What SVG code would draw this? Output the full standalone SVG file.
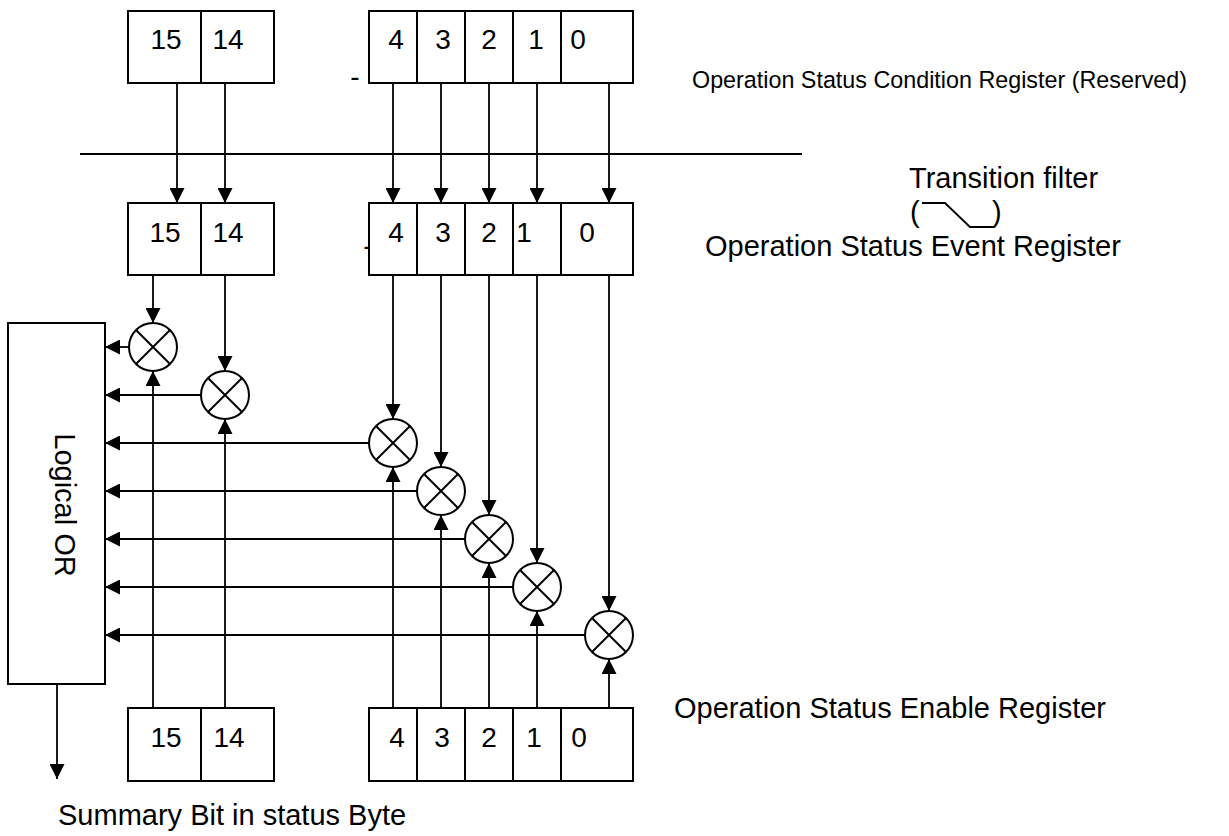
<svg xmlns="http://www.w3.org/2000/svg" width="1229" height="836" viewBox="0 0 1229 836">
<style>
.box{fill:#fff;stroke:#000;stroke-width:2}
.div{stroke:#000;stroke-width:2}
.d{font-family:"Liberation Sans",Arial,sans-serif;font-size:28px;fill:#000;text-anchor:middle}
.lbl{font-family:"Liberation Sans",Arial,sans-serif;font-size:29px;fill:#000}
.sm{font-family:"Liberation Sans",Arial,sans-serif;font-size:24.5px;fill:#000}
.c{fill:#fff;stroke:#000;stroke-width:2}
.x{stroke:#000;stroke-width:2}
.w{fill:none;stroke:#000;stroke-width:1.8;marker-end:url(#ah)}
.p{fill:none;stroke:#000;stroke-width:1.8}
</style>
<defs>
<marker id="ah" markerUnits="userSpaceOnUse" markerWidth="15" markerHeight="15" viewBox="0 0 15 15" refX="15" refY="7.5" orient="auto">
<path d="M0,0 L15,7.5 L0,15 z" fill="#000"/>
</marker>
<g id="mul"><circle class="c" cx="0" cy="0" r="24"/><path class="x" d="M-17,-17 L17,17 M17,-17 L-17,17"/></g>
</defs>
<rect width="1229" height="836" fill="#fff"/>

<g id="marks">
<text class="d" x="355" y="86" text-anchor="middle">-</text>
<text class="d" x="368" y="255" text-anchor="middle">-</text>
</g>

<g id="cond-hi">
<rect class="box" x="128" y="11" width="146" height="72"/>
<line class="div" x1="201" y1="11" x2="201" y2="83"/>
<text class="d" x="166" y="49">15</text><text class="d" x="228" y="49">14</text>
</g>
<g id="cond-lo">
<rect class="box" x="369" y="11" width="264" height="72"/>
<path class="div" d="M417,11V83M465,11V83M513,11V83M561,11V83"/>
<text class="d" x="396" y="49">4</text><text class="d" x="443" y="49">3</text><text class="d" x="489" y="49">2</text><text class="d" x="536" y="49">1</text><text class="d" x="578" y="49">0</text>
</g>
<g id="filter-line"><line x1="80" y1="154" x2="802" y2="154" stroke="#000" stroke-width="2"/></g>

<g id="event-hi">
<rect class="box" x="128" y="203" width="146" height="72"/>
<line class="div" x1="201" y1="203" x2="201" y2="275"/>
<text class="d" x="165" y="242">15</text><text class="d" x="228" y="242">14</text>
</g>
<g id="event-lo">
<rect class="box" x="369" y="203" width="264" height="72"/>
<path class="div" d="M417,203V275M465,203V275M513,203V275M561,203V275"/>
<text class="d" x="396" y="242">4</text><text class="d" x="443" y="242">3</text><text class="d" x="489" y="242">2</text><text class="d" x="524" y="242">1</text><text class="d" x="587" y="242">0</text>
</g>

<g id="enable-hi">
<rect class="box" x="128" y="708" width="146" height="73"/>
<line class="div" x1="201" y1="708" x2="201" y2="781"/>
<text class="d" x="166" y="747">15</text><text class="d" x="229" y="747">14</text>
</g>
<g id="enable-lo">
<rect class="box" x="369" y="708" width="264" height="73"/>
<path class="div" d="M417,708V781M465,708V781M513,708V781M561,708V781"/>
<text class="d" x="397" y="747">4</text><text class="d" x="442" y="747">3</text><text class="d" x="489" y="747">2</text><text class="d" x="534" y="747">1</text><text class="d" x="579" y="747">0</text>
</g>

<g id="logical-or">
<rect class="box" x="8" y="323" width="97" height="361"/>
<text class="lbl" transform="translate(55,505) rotate(90)" text-anchor="middle">Logical OR</text>
</g>

<g id="and15"><use href="#mul" x="153" y="347"/></g>
<g id="and14"><use href="#mul" x="225" y="395"/></g>
<g id="and4"><use href="#mul" x="393" y="443"/></g>
<g id="and3"><use href="#mul" x="441" y="491"/></g>
<g id="and2"><use href="#mul" x="489" y="539"/></g>
<g id="and1"><use href="#mul" x="537" y="587"/></g>
<g id="and0"><use href="#mul" x="609" y="635"/></g>

<g id="connectors">
<path class="w" d="M177,83V203"/>
<path class="w" d="M225,83V203"/>
<path class="w" d="M393,83V203"/>
<path class="w" d="M441,83V203"/>
<path class="w" d="M489,83V203"/>
<path class="w" d="M537,83V203"/>
<path class="w" d="M609,83V203"/>

<path class="w" d="M153,275V323"/>
<path class="w" d="M225,275V371"/>
<path class="w" d="M393,275V419"/>
<path class="w" d="M441,275V467"/>
<path class="w" d="M489,275V515"/>
<path class="w" d="M537,275V563"/>
<path class="w" d="M609,275V611"/>

<path class="w" d="M153,708V371"/>
<path class="w" d="M225,708V419"/>
<path class="w" d="M393,708V467"/>
<path class="w" d="M441,708V515"/>
<path class="w" d="M489,708V563"/>
<path class="w" d="M537,708V611"/>
<path class="w" d="M609,708V659"/>

<path class="w" d="M129,347H105"/>
<path class="w" d="M201,395H105"/>
<path class="w" d="M369,443H105"/>
<path class="w" d="M417,491H105"/>
<path class="w" d="M465,539H105"/>
<path class="w" d="M513,587H105"/>
<path class="w" d="M585,635H105"/>

<path class="w" d="M57,684V779"/>
</g>

<g id="labels">
<text class="sm" x="692" y="88" textLength="495" lengthAdjust="spacingAndGlyphs">Operation Status Condition Register (Reserved)</text>
<text class="lbl" x="909" y="188">Transition filter</text>
<text class="lbl" x="910" y="222">(</text>
<path class="p" d="M922,203H945L970,227H994"/>
<text class="lbl" x="992" y="222">)</text>
<text class="lbl" x="705" y="256">Operation Status Event Register</text>
<text class="lbl" x="674" y="718">Operation Status Enable Register</text>
<text class="lbl" x="58" y="825">Summary Bit in status Byte</text>
</g>
</svg>
